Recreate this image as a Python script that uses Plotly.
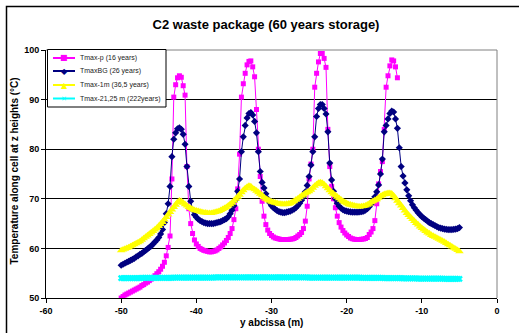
import plotly.graph_objects as go

# ---- abscissa grid (m) ----
y_abscissa = [
    -50.0, -49.75, -49.5, -49.25, -49.0, -48.75, -48.5, -48.25,
    -48.0, -47.75, -47.5, -47.25, -47.0, -46.75, -46.5, -46.25,
    -46.0, -45.75, -45.5, -45.25, -45.0, -44.75, -44.5, -44.25,
    -44.0, -43.75, -43.5, -43.25, -43.0, -42.75, -42.5, -42.25,
    -42.0, -41.75, -41.5, -41.25, -41.0, -40.75, -40.5, -40.25,
    -40.0, -39.75, -39.5, -39.25, -39.0, -38.75, -38.5, -38.25,
    -38.0, -37.75, -37.5, -37.25, -37.0, -36.75, -36.5, -36.25,
    -36.0, -35.75, -35.5, -35.25, -35.0, -34.75, -34.5, -34.25,
    -34.0, -33.75, -33.5, -33.25, -33.0, -32.75, -32.5, -32.25,
    -32.0, -31.75, -31.5, -31.25, -31.0, -30.75, -30.5, -30.25,
    -30.0, -29.75, -29.5, -29.25, -29.0, -28.75, -28.5, -28.25,
    -28.0, -27.75, -27.5, -27.25, -27.0, -26.75, -26.5, -26.25,
    -26.0, -25.75, -25.5, -25.25, -25.0, -24.75, -24.5, -24.25,
    -24.0, -23.75, -23.5, -23.25, -23.0, -22.75, -22.5, -22.25,
    -22.0, -21.75, -21.5, -21.25, -21.0, -20.75, -20.5, -20.25,
    -20.0, -19.75, -19.5, -19.25, -19.0, -18.75, -18.5, -18.25,
    -18.0, -17.75, -17.5, -17.25, -17.0, -16.75, -16.5, -16.25,
    -16.0, -15.75, -15.5, -15.25, -15.0, -14.75, -14.5, -14.25,
    -14.0, -13.75, -13.5, -13.25, -13.0, -12.75, -12.5, -12.25,
    -12.0, -11.75, -11.5, -11.25, -11.0, -10.75, -10.5, -10.25,
    -10.0, -9.75, -9.5, -9.25, -9.0, -8.75, -8.5, -8.25,
    -8.0, -7.75, -7.5, -7.25, -7.0, -6.75, -6.5, -6.25,
    -6.0, -5.75, -5.5, -5.25, -5.0,
]

# ---- Tmax-p (16 years) ----
tmax_p = [
    50.0, 50.3, 50.6, 50.8,
    51.0, 51.2, 51.4, 51.6,
    51.8, 52.0, 52.2, 52.5,
    52.7, 53.0, 53.2, 53.5,
    53.8, 54.1, 54.5, 54.9,
    55.3, 55.8, 56.4, 57.2,
    58.5, 60.2, 62.5, 74.0,
    90.5, 93.0, 94.4, 94.8,
    94.5, 92.8, 90.9, 76.5,
    68.0, 65.0, 63.0, 61.7,
    60.9, 60.4, 60.0, 59.8,
    59.6, 59.5, 59.4, 59.3,
    59.3, 59.4, 59.5, 59.7,
    60.0, 60.3, 60.7, 61.1,
    61.6, 62.2, 63.0, 64.0,
    65.8, 68.0, 72.0, 79.0,
    90.5, 93.2, 95.3, 97.0,
    97.7, 97.8, 96.6, 94.6,
    88.0, 80.0, 74.5, 69.5,
    66.5, 64.8, 63.7, 63.0,
    62.6, 62.3, 62.1, 62.0,
    61.9, 61.8, 61.8, 61.8,
    61.8, 61.8, 61.85, 61.9,
    62.0, 62.2, 62.5, 62.8,
    63.2, 64.0, 65.5, 68.5,
    74.0, 77.0, 80.0, 92.5,
    95.3, 97.6, 99.3, 99.3,
    98.3, 96.5, 84.0, 76.5,
    72.5, 70.0, 68.2, 66.5,
    65.2, 64.3, 63.6, 63.1,
    62.7, 62.4, 62.1, 61.95,
    61.85, 61.8, 61.8, 61.8,
    61.85, 61.9, 62.0, 62.2,
    62.8, 63.3, 64.0, 65.6,
    69.0, 73.0, 75.5, 77.5,
    84.0, 92.5, 94.8, 96.8,
    98.0, 97.8, 96.6, 94.4,
]

# ---- TmaxBG (26 years) ----
tmax_bg = [
    56.6, 56.8, 57.0, 57.2,
    57.4, 57.6, 57.8, 58.0,
    58.3, 58.5, 58.8, 59.0,
    59.3, 59.6, 59.9, 60.2,
    60.5, 60.9, 61.3, 61.7,
    62.2, 62.9, 63.8, 65.2,
    67.0, 69.0, 72.5, 78.5,
    82.0, 83.3, 84.1, 84.3,
    84.0, 83.0, 81.0, 76.5,
    72.5, 69.5, 67.8, 66.8,
    66.3, 65.9, 65.6, 65.4,
    65.2, 65.1, 65.0, 65.0,
    65.0, 65.0, 65.1, 65.2,
    65.3, 65.4, 65.6, 65.8,
    66.0, 66.4, 67.0, 67.7,
    68.6, 69.8, 71.5, 74.0,
    79.5, 82.5, 84.8, 86.3,
    87.2, 87.4, 86.9, 85.6,
    83.3, 79.5, 75.5, 73.3,
    72.2, 71.0, 70.0, 69.2,
    68.6, 68.2, 67.9, 67.6,
    67.4, 67.3, 67.2, 67.2,
    67.3, 67.4, 67.5, 67.7,
    67.9, 68.2, 68.6, 69.1,
    69.7, 70.4, 71.4, 72.7,
    74.5, 76.8, 79.5, 82.5,
    86.6, 88.2, 89.0, 89.0,
    88.2, 87.1, 83.5, 77.2,
    73.8, 71.5, 70.0, 69.1,
    68.5, 68.1, 67.8, 67.6,
    67.5, 67.4, 67.35, 67.3,
    67.3, 67.3, 67.3, 67.35,
    67.4, 67.5, 67.7, 68.0,
    68.4, 68.9, 69.6, 70.4,
    71.4, 72.8, 75.0, 78.0,
    83.5, 84.8, 86.1, 87.2,
    87.7, 87.5, 86.1, 84.2,
    80.3, 76.5, 74.6, 73.2,
    71.8, 70.6, 69.6, 68.8,
    68.2, 67.7, 67.2, 66.8,
    66.4, 66.1, 65.8, 65.5,
    65.2, 65.0, 64.8, 64.6,
    64.4, 64.2, 64.1, 64.0,
    63.9, 63.85, 63.8, 63.8,
    63.8, 63.85, 63.9, 64.0,
    64.2,
]

# ---- Tmax-1m (36,5 years) ----
tmax_1m = [
    59.6, 59.75, 59.9, 60.05,
    60.2, 60.4, 60.6, 60.8,
    61.0, 61.2, 61.4, 61.7,
    62.0, 62.3, 62.6, 62.9,
    63.2, 63.5, 63.8, 64.1,
    64.5, 64.9, 65.3, 65.8,
    66.3, 66.8, 67.3, 67.8,
    68.3, 68.8, 69.3, 69.6,
    69.5, 69.2, 68.9, 68.6,
    68.3, 68.1, 67.9, 67.7,
    67.6, 67.5, 67.4, 67.3,
    67.2, 67.2, 67.1, 67.1,
    67.1, 67.2, 67.3, 67.4,
    67.5, 67.7, 67.9, 68.1,
    68.3, 68.6, 68.9, 69.2,
    69.6, 70.0, 70.4, 70.8,
    71.3, 71.7, 72.1, 72.4,
    72.6, 72.5, 72.1, 71.9,
    71.6, 71.3, 71.0, 70.7,
    70.3, 70.0, 69.8, 69.6,
    69.4, 69.3, 69.2, 69.1,
    69.0, 68.95, 68.9, 68.9,
    68.95, 69.0, 69.1, 69.3,
    69.5, 69.8, 70.0, 70.3,
    70.6, 70.8, 71.1, 71.3,
    71.5, 71.8, 72.2, 72.6,
    72.9, 73.2, 73.3, 73.2,
    72.9, 72.5, 72.1, 71.7,
    71.3, 71.0, 70.7, 70.4,
    70.1, 69.8, 69.5, 69.3,
    69.1, 68.9, 68.8, 68.7,
    68.6, 68.5, 68.45, 68.4,
    68.45, 68.5, 68.6, 68.8,
    69.0, 69.3, 69.5, 69.7,
    69.9, 70.2, 70.5, 70.7,
    70.9, 71.0, 71.1, 71.1,
    71.0, 70.6, 70.1, 69.6,
    69.1, 68.6, 68.1, 67.6,
    67.1, 66.7, 66.3, 65.9,
    65.5, 65.1, 64.8, 64.4,
    64.1, 63.8, 63.5, 63.2,
    63.0, 62.7, 62.5, 62.3,
    62.1, 61.9, 61.7, 61.5,
    61.3, 61.05, 60.8, 60.6,
    60.35, 60.1, 59.9, 59.65,
    59.4,
]

# ---- Tmax-21,25 m (222 years) ----
tmax_2125 = [
    54.0, 54.0, 54.0, 54.0,
    54.0, 54.0, 54.0, 54.0,
    54.0, 54.0, 54.0, 54.05,
    54.05, 54.05, 54.05, 54.05,
    54.05, 54.05, 54.05, 54.05,
    54.05, 54.05, 54.05, 54.05,
    54.05, 54.05, 54.05, 54.05,
    54.1, 54.1, 54.1, 54.1,
    54.1, 54.1, 54.1, 54.1,
    54.1, 54.1, 54.1, 54.1,
    54.1, 54.1, 54.1, 54.1,
    54.1, 54.1, 54.1, 54.1,
    54.1, 54.1, 54.15, 54.15,
    54.15, 54.15, 54.15, 54.15,
    54.15, 54.15, 54.15, 54.15,
    54.15, 54.15, 54.15, 54.15,
    54.15, 54.15, 54.15, 54.15,
    54.15, 54.15, 54.15, 54.15,
    54.15, 54.15, 54.15, 54.15,
    54.15, 54.15, 54.15, 54.15,
    54.15, 54.15, 54.15, 54.15,
    54.15, 54.15, 54.15, 54.15,
    54.15, 54.15, 54.15, 54.15,
    54.15, 54.15, 54.15, 54.15,
    54.15, 54.15, 54.15, 54.15,
    54.1, 54.1, 54.1, 54.1,
    54.1, 54.1, 54.1, 54.1,
    54.1, 54.1, 54.1, 54.1,
    54.1, 54.1, 54.1, 54.1,
    54.1, 54.1, 54.1, 54.1,
    54.1, 54.1, 54.1, 54.1,
    54.1, 54.1, 54.1, 54.1,
    54.05, 54.05, 54.05, 54.05,
    54.05, 54.05, 54.05, 54.05,
    54.05, 54.05, 54.05, 54.05,
    54.0, 54.0, 54.0, 54.0,
    54.0, 54.0, 54.0, 54.0,
    54.0, 54.0, 53.95, 53.95,
    53.95, 53.95, 53.95, 53.95,
    53.95, 53.95, 53.9, 53.9,
    53.9, 53.9, 53.9, 53.9,
    53.9, 53.9, 53.9, 53.9,
    53.9, 53.9, 53.9, 53.9,
    53.85, 53.85, 53.85, 53.85,
    53.85, 53.85, 53.85, 53.85,
    53.85, 53.85, 53.85, 53.85,
    53.8,
]

series_names = [
    "Tmax-p (16 years)",
    "TmaxBG (26 years)",
    "Tmax-1m (36,5 years)",
    "Tmax-21,25 m (222years)",
]
series_colors = ["#FF00FF", "#000080", "#FFFF00", "#00FFFF"]
series_symbols = ["square", "diamond", "triangle-up", "x"]
legend_glyphs = ["■", "◆", "▲", "✕"]

x_ticks = [-60, -50, -40, -30, -20, -10, 0]
y_ticks = [50, 60, 70, 80, 90, 100]

FONT = "Arial, 'Liberation Sans', sans-serif"
marker_sizes = [5, 5.5, 7.5, 6]
data = [tmax_p, tmax_bg, tmax_1m, tmax_2125]

fig = go.Figure()
for name, vals, col, sym, ms in zip(series_names, data, series_colors,
                                    series_symbols, marker_sizes):
    fig.add_trace(go.Scatter(
        x=y_abscissa[:len(vals)],
        y=vals,
        name=name,
        mode="lines+markers",
        line=dict(color=col, width=1),
        marker=dict(color=col, symbol=sym, size=ms, line=dict(width=0)),
        showlegend=False,
    ))

# ---- pixel helpers for layout decorations (plot area 46..497 x 50..298) ----
def px(xp):
    return (xp - 46) / 451.0

def py(yp):
    return (298 - yp) / 248.0

shapes = [
    # plot-area frame (top and right, grey)
    dict(type="line", xref="paper", yref="paper", x0=0, x1=1, y0=1, y1=1,
         line=dict(color="#808080", width=1), layer="above"),
    dict(type="line", xref="paper", yref="paper", x0=1, x1=1, y0=0, y1=1,
         line=dict(color="#808080", width=1), layer="above"),
    # chart-area frame
    dict(type="rect", xref="paper", yref="paper",
         x0=px(6.5), x1=1.2, y0=-0.3, y1=py(6.5),
         line=dict(color="black", width=1.5), layer="below"),
    # legend box
    dict(type="rect", xref="paper", yref="paper",
         x0=px(47.5), x1=px(166), y0=py(107), y1=py(49.5),
         fillcolor="white", line=dict(color="black", width=1), layer="above"),
]
annotations = [
    dict(text="Temperature along cell at z heights (°C)", xref="paper", yref="paper",
         x=px(15), y=0.51, textangle=-90, showarrow=False,
         xanchor="center", yanchor="middle",
         font=dict(family=FONT, size=10, color="black", weight="bold")),
    dict(text="y abcissa (m)", xref="paper", yref="paper",
         x=0.5, y=py(322), showarrow=False, xanchor="center", yanchor="middle",
         font=dict(family=FONT, size=10, color="black", weight="bold")),
]

legend_rows = [58, 71, 85, 98.5]
glyph_sizes = [8, 8, 8, 7]
for name, col, g, gs, yr in zip(series_names, series_colors, legend_glyphs,
                                glyph_sizes, legend_rows):
    shapes.append(dict(type="line", xref="paper", yref="paper",
                       x0=px(53), x1=px(75), y0=py(yr), y1=py(yr),
                       line=dict(color=col, width=2), layer="above"))
    annotations.append(dict(text=g, xref="paper", yref="paper",
                            x=px(64), y=py(yr), showarrow=False,
                            xanchor="center", yanchor="middle",
                            font=dict(family="DejaVu Sans", size=gs, color=col)))
    annotations.append(dict(text=name, xref="paper", yref="paper",
                            x=px(78), y=py(yr), showarrow=False,
                            xanchor="left", yanchor="middle",
                            font=dict(family=FONT, size=7, color="#222222")))

fig.update_layout(
    width=519, height=333,
    margin=dict(l=46, r=22, t=50, b=35),
    paper_bgcolor="white", plot_bgcolor="white",
    font=dict(family=FONT, color="black"),
    showlegend=False,
    title=dict(text="C2 waste package (60 years storage)",
               x=266 / 519, xanchor="center", xref="container",
               y=1 - 24 / 333, yanchor="middle", yref="container",
               font=dict(family=FONT, size=13, color="black", weight="bold")),
    xaxis=dict(range=[-60, 0], tickvals=x_ticks, ticktext=[str(v) for v in x_ticks],
               showgrid=False, zeroline=False,
               showline=True, linecolor="black", linewidth=1,
               ticks="outside", ticklen=4, tickcolor="black",
               tickfont=dict(family=FONT, size=9, color="black", weight="bold")),
    yaxis=dict(range=[50, 100], tickvals=y_ticks, ticktext=[str(v) for v in y_ticks],
               showgrid=True, gridcolor="black", gridwidth=1, zeroline=False,
               showline=True, linecolor="black", linewidth=1,
               ticks="outside", ticklen=4, tickcolor="black",
               tickfont=dict(family=FONT, size=9, color="black", weight="bold")),
    annotations=annotations,
    shapes=shapes,
)

fig.write_html("out.html")
